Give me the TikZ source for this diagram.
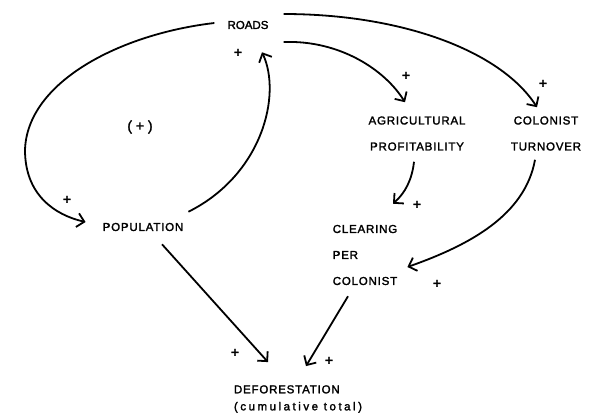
\documentclass[tikz,border=0pt]{standalone}
\usepackage{fontspec}
\setmainfont{Liberation Sans}
\newfontfamily\capsfont[LetterSpace=7,FakeBold=2]{Liberation Sans}
\newfontfamily\tightfont[FakeBold=2]{Liberation Sans}
\newfontfamily\widefont[LetterSpace=22,FakeBold=2]{Liberation Sans}
\usepackage{tikz}
\usetikzlibrary{arrows.meta,positioning}

\begin{document}
\begin{tikzpicture}[x=1pt,y=-1pt,
  every node/.style={inner sep=2pt},
  var/.style={font=\capsfont\fontsize{11.5}{13}\selectfont},
  sign/.style={font=\tightfont\fontsize{14}{15}\selectfont},
  link/.style={line width=1.8pt,-{Straight Barb[length=7pt,width=14pt]}}]
\useasboundingbox (0,0) rectangle (592,418);
\node[var,font=\tightfont\fontsize{11.5}{13}\selectfont] (roads) at (248,25) {ROADS};
\node[var] (pop) at (143,227) {POPULATION};
\node[var,align=center] (agri) at (417,133.5) {AGRICULTURAL\\[13pt]PROFITABILITY};
\node[var,align=center] (turn) at (546,133.5) {COLONIST\\[13pt]TURNOVER};
\node[var,align=left] (clear) at (365,255) {CLEARING\\[13pt]PER\\[13pt]COLONIST};
\node[var,align=left] (defor) at (298,399) {DEFORESTATION\\[4pt]{\widefont(cumulative total)}};
\node[sign] (s1) at (238,53) {+};
\node[sign] (s2) at (67,200) {+};
\node[sign] (loop) at (140,127) {( + )};
\node[sign] (s3) at (406,76) {+};
\node[sign] (s4) at (543,84) {+};
\node[sign] (s5) at (417,205) {+};
\node[sign] (s6) at (437,284) {+};
\node[sign] (s7) at (329,361) {+};
\node[sign] (s8) at (235,353) {+};
\draw[link] ([xshift=-11pt,yshift=2pt]roads.west) .. controls (120,34) and (27,82) .. (25,150) .. controls (25,195) and (55,215) .. ([xshift=-15pt,yshift=5pt]pop.west);
\draw[link] ([xshift=3pt,yshift=9pt]pop.north east) .. controls (262,175) and (282,95) .. ([xshift=14pt,yshift=-21pt]roads.south);
\draw[link] ([xshift=13pt,yshift=11pt]roads.east) .. controls (400,14) and (500,50) .. ([xshift=-9pt,yshift=7pt]turn.north);
\draw[link] ([xshift=13pt,yshift=-17pt]roads.east) .. controls (340,40) and (385,70) .. ([xshift=-12pt,yshift=12pt]agri.north);
\draw[link] ([xshift=-3pt,yshift=-9pt]agri.south) .. controls (412,180) and (405,193) .. ([xshift=28pt,yshift=19pt]clear.north);
\draw[link] ([xshift=-11pt,yshift=-7pt]turn.south) .. controls (525,215) and (470,245) .. ([xshift=8pt,yshift=-12pt]clear.east);
\draw[link] ([xshift=-17pt,yshift=-9pt]clear.south) -- ([xshift=8pt,yshift=17pt]defor.north);
\draw[link] ([xshift=19pt,yshift=-11pt]pop.south) -- ([xshift=-30pt,yshift=21pt]defor.north);
\end{tikzpicture}
\end{document}
